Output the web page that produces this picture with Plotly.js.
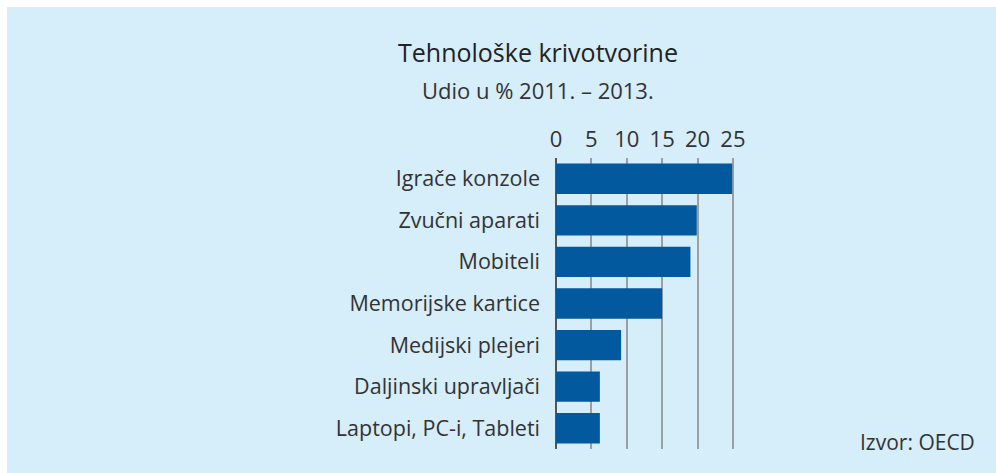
<!DOCTYPE html>
<html>
<head>
<meta charset="utf-8">
<script src="https://cdn.plot.ly/plotly-3.0.1.min.js"></script>
<style>
html,body{margin:0;padding:0;background:#ffffff;}
#chart{position:absolute;left:7px;top:7px;width:989px;height:466px;}
</style>
</head>
<body>
<div id="chart"></div>
<script>
const categories = ["Igrače konzole","Zvučni aparati","Mobiteli","Memorijske kartice","Medijski plejeri","Daljinski upravljači","Laptopi, PC-i, Tableti"];
const values = [24.9, 19.9, 19.0, 15.0, 9.2, 6.2, 6.2];
const tickVals = [0,5,10,15,20,25];
const titleText = "Tehnološke krivotvorine";
const subtitleText = "Udio u % 2011. – 2013.";
const sourceText = "Izvor: OECD";

const FONT = "'Open Sans', sans-serif";
const W = 989, H = 466;
const ML = 549, MR = 261, MT = 151, MB = 24;
const PW = W - ML - MR, PH = H - MT - MB;

const trace = {
  type: 'bar',
  orientation: 'h',
  y: categories,
  x: values,
  marker: {color: '#03599d'},
  hoverinfo: 'x+y'
};

const layout = {
  width: W, height: H,
  paper_bgcolor: '#d6edfa',
  plot_bgcolor: 'rgba(0,0,0,0)',
  margin: {l: ML, r: MR, t: MT, b: MB, pad: 0},
  bargap: 0.27,
  showlegend: false,
  font: {family: FONT, color: '#333333'},
  xaxis: {
    side: 'top',
    range: [0, 25.3],
    tickvals: tickVals,
    ticktext: tickVals.map(String),
    tickfont: {size: 22, color: '#333333', family: FONT},
    showgrid: true,
    gridcolor: '#9a9fa3',
    gridwidth: 1.5,
    zeroline: true,
    zerolinecolor: '#555555',
    zerolinewidth: 2,
    showline: false,
    ticks: '',
    ticklabelstandoff: 6,
    fixedrange: true
  },
  yaxis: {
    autorange: 'reversed',
    categoryorder: 'array',
    categoryarray: categories,
    tickfont: {size: 21.5, color: '#333333', family: FONT},
    ticks: '',
    ticklabelstandoff: 15,
    showgrid: false,
    showline: false,
    zeroline: false,
    fixedrange: true
  },
  annotations: [
    {text: titleText, xref: 'paper', yref: 'paper', x: (531 - ML) / PW, y: 1 + (MT - 45) / PH,
     xanchor: 'center', yanchor: 'middle', showarrow: false, font: {size: 25, color: '#222222', family: FONT}},
    {text: subtitleText, xref: 'paper', yref: 'paper', x: (531 - ML) / PW, y: 1 + (MT - 83) / PH,
     xanchor: 'center', yanchor: 'middle', showarrow: false, font: {size: 22, color: '#333333', family: FONT}},
    {text: sourceText, xref: 'paper', yref: 'paper', x: (970 - ML) / PW, y: -(435 - (H - MB)) / PH,
     xanchor: 'right', yanchor: 'middle', showarrow: false, font: {size: 21, color: '#333333', family: FONT}}
  ]
};

Plotly.newPlot('chart', [trace], layout, {displayModeBar: false, responsive: false});
</script>
</body>
</html>
